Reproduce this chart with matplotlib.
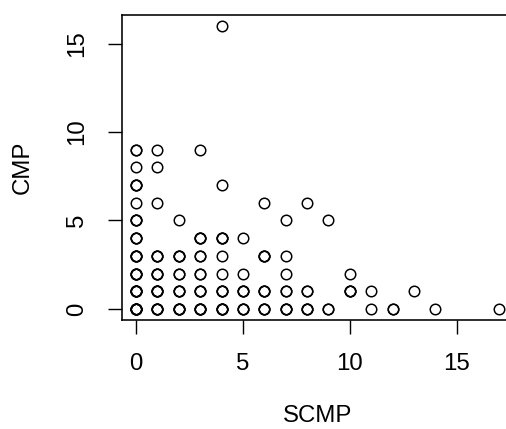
import numpy as np
from matplotlib import pyplot as plt

# points; n = how many times each one is overplotted
scmp = [4, 0, 1, 3, 0, 1, 0, 4, 0, 1, 6, 8, 0, 2, 7, 9,
        0, 3, 4, 5, 0, 1, 2, 3, 4, 6, 7,
        0, 1, 2, 3, 4, 5, 7, 10,
        0, 1, 2, 3, 4, 5, 6, 7, 8, 10, 11, 13,
        0, 1, 2, 3, 4, 5, 6, 7, 8, 9, 11, 12, 14, 17]
cmp = [16, 9, 9, 9, 8, 8, 7, 7, 6, 6, 6, 6, 5, 5, 5, 5,
       4, 4, 4, 4, 3, 3, 3, 3, 3, 3, 3,
       2, 2, 2, 2, 2, 2, 2, 2,
       1, 1, 1, 1, 1, 1, 1, 1, 1, 1, 1, 1,
       0, 0, 0, 0, 0, 0, 0, 0, 0, 0, 0, 0, 0, 0]
n = [1, 2, 1, 1, 1, 1, 3, 1, 1, 1, 1, 1, 3, 1, 1, 1,
     3, 3, 3, 1, 4, 3, 3, 2, 1, 3, 1,
     4, 3, 2, 2, 1, 1, 1, 1,
     5, 4, 3, 3, 3, 3, 3, 2, 2, 3, 1, 1,
     6, 4, 4, 4, 4, 3, 3, 3, 3, 2, 1, 2, 1, 1]

x = np.repeat(scmp, n)
y = np.repeat(cmp, n)

plt.rcParams['font.family'] = ['Liberation Sans', 'DejaVu Sans']

W, H = 506, 429
fig = plt.figure(figsize=(W / 72, H / 72), dpi=72)
# plot region like R's: runs a bit past the right edge of the device
ax = fig.add_axes([121.5 / W, (H - 320.3) / H, (514 - 121.5) / W, (320.3 - 14.5) / H])

ax.plot(x, y, 'o', markersize=10.5, markerfacecolor='none',
        markeredgecolor='black', markeredgewidth=1.5)

# R pads the data range by 4% on each side
ax.set_xlim(-0.04 * 17, 17 * 1.04)
ax.set_ylim(-0.04 * 16, 16 * 1.04)
ax.set_xticks([0, 5, 10, 15])
ax.set_yticks([0, 5, 10, 15])
ax.tick_params(axis='both', direction='out', length=14, width=1.4,
               labelsize=24, pad=19)
for lbl in ax.get_yticklabels():
    lbl.set_rotation(90)
    lbl.set_va('center')
for s in ax.spines.values():
    s.set_linewidth(1.6)

fig.text(318 / W, 1 - 416 / H, 'SCMP', fontsize=24, ha='center', va='center')
fig.text(23 / W, 1 - 167 / H, 'CMP', fontsize=24, ha='center', va='center',
         rotation=90)

fig.savefig('out.png', dpi=72)
